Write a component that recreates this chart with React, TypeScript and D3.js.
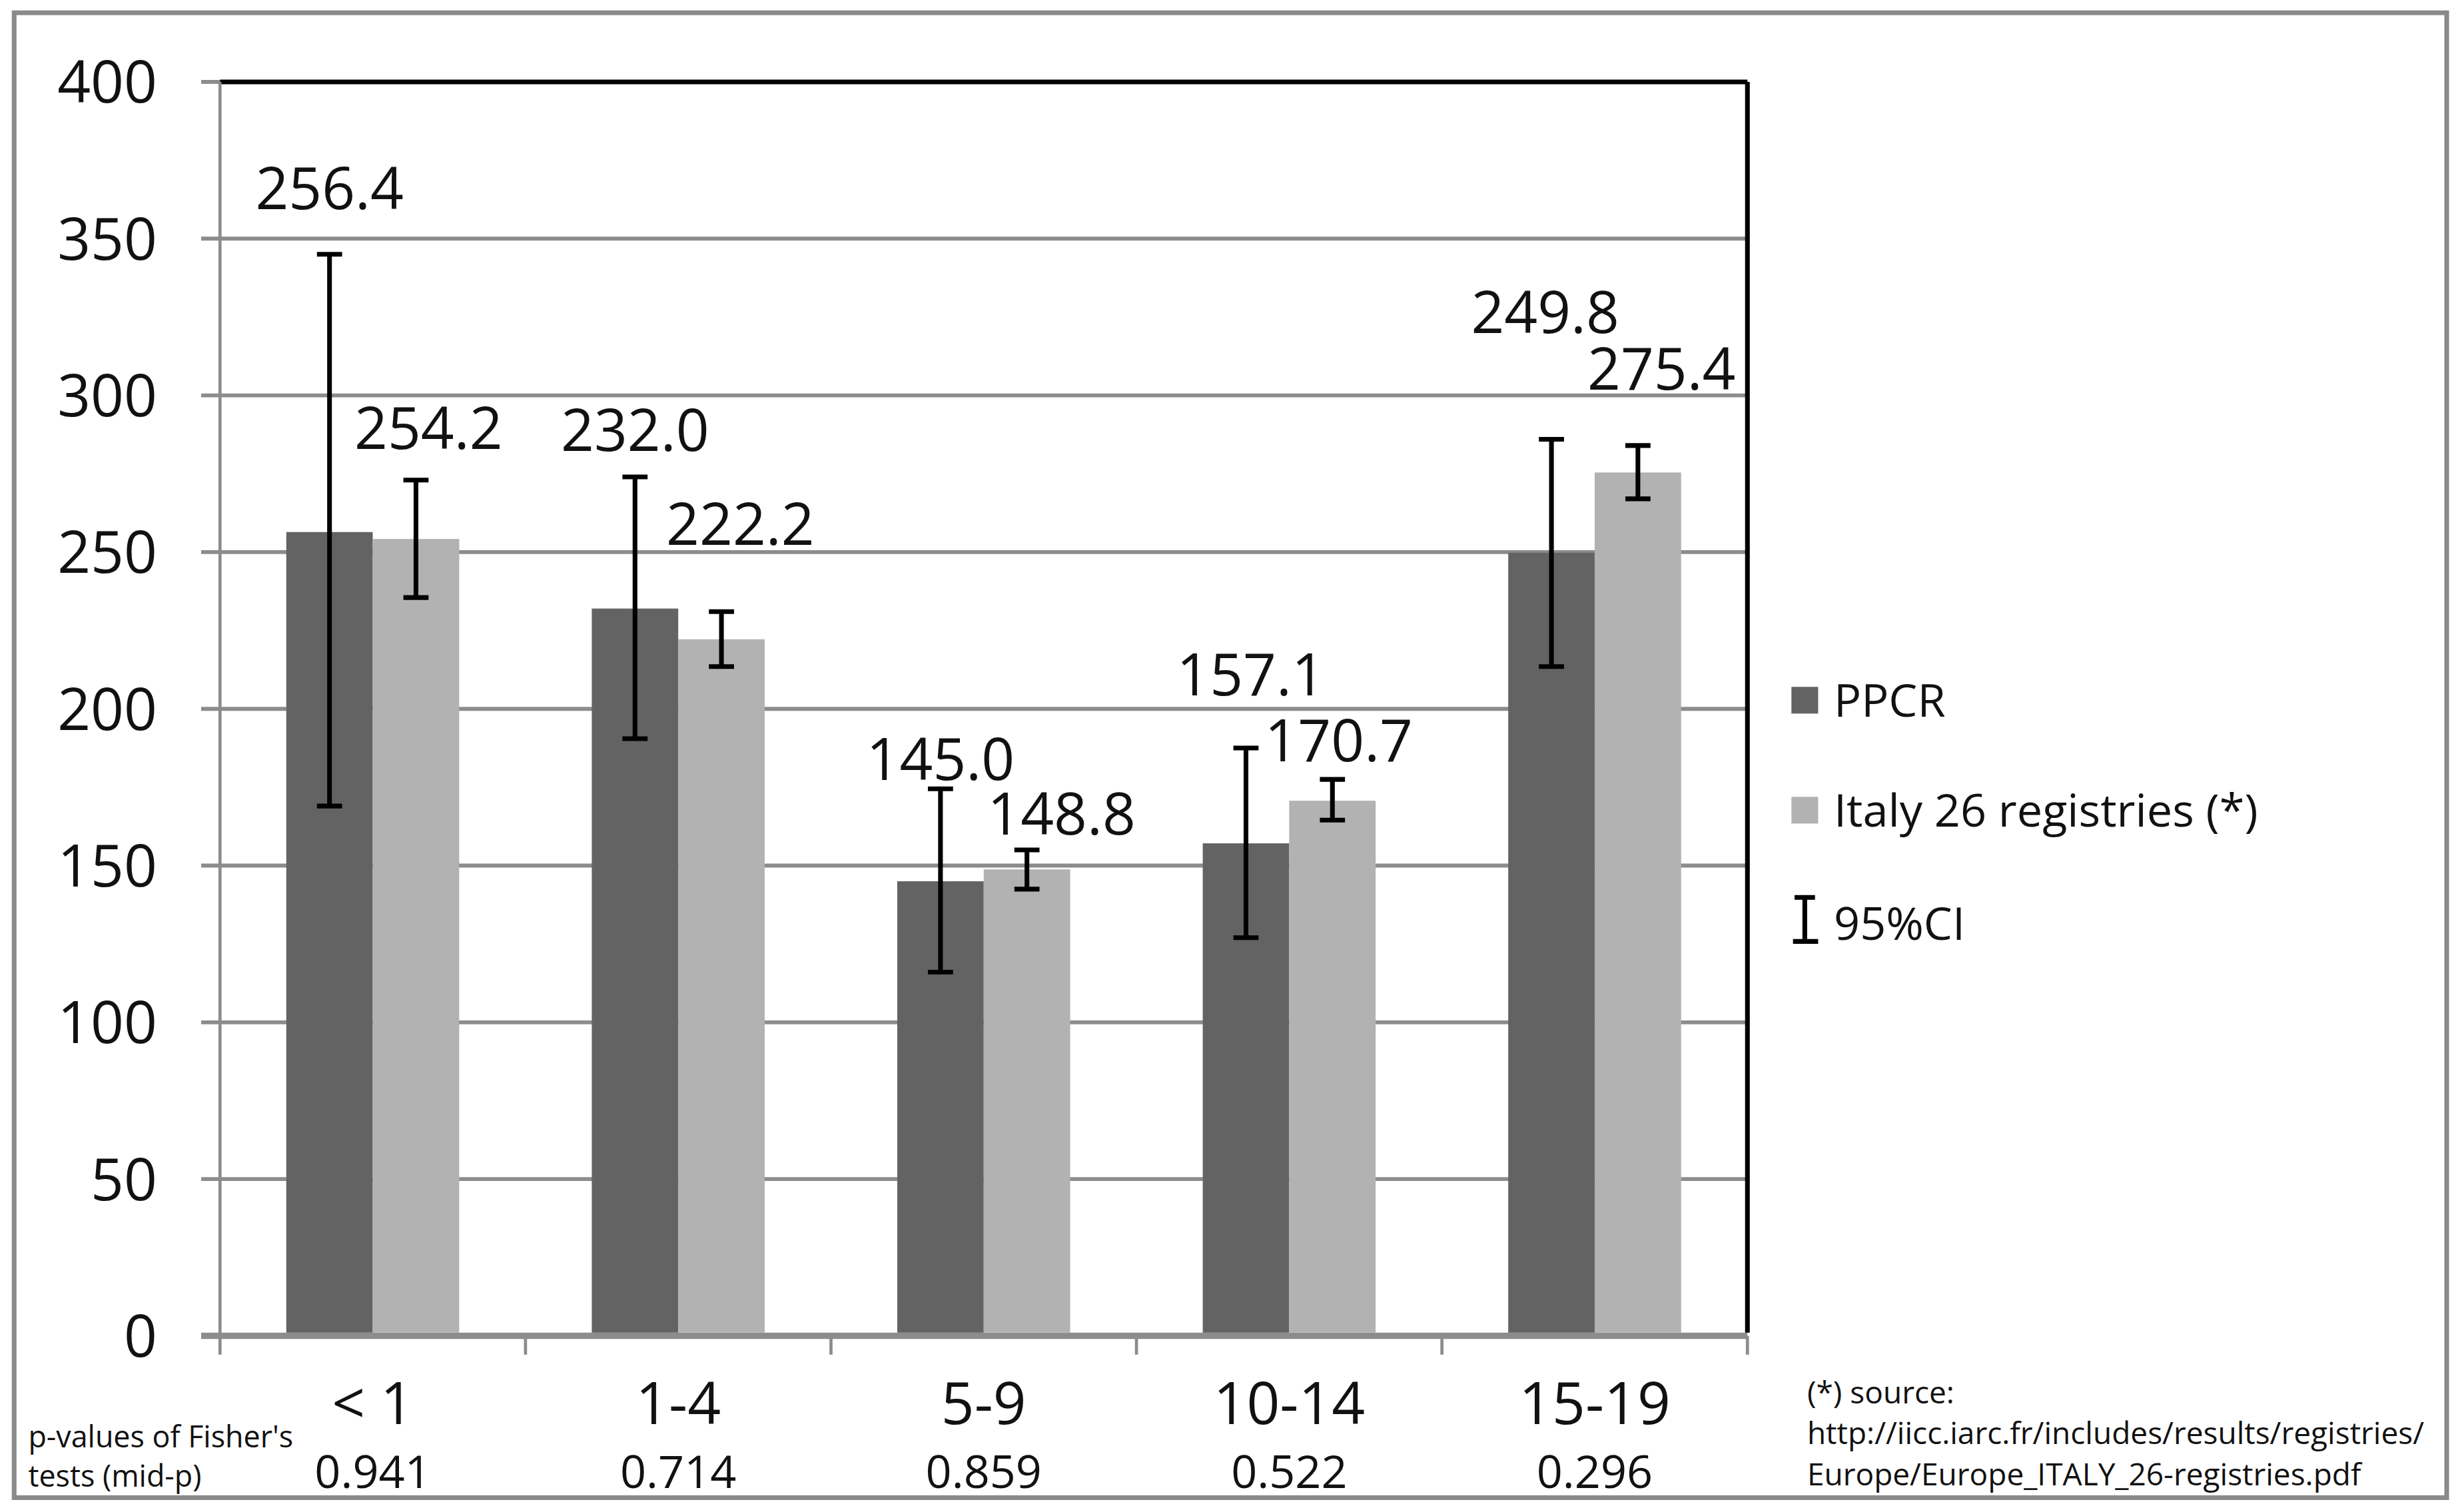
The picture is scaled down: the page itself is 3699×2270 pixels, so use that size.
import React from "react";
import * as d3 from "d3";

const ageGroups = ["< 1", "1-4", "5-9", "10-14", "15-19"];
const pValues = ["0.941", "0.714", "0.859", "0.522", "0.296"];
const seriesNames = ["PPCR", "Italy 26 registries (*)"];

const ppcrRate = [256.4, 232.0, 145.0, 157.1, 249.8];
const ppcrLow = [169, 190.5, 116, 127, 213.5];
const ppcrHigh = [345, 274, 174.5, 187.5, 286];

const italyRate = [254.2, 222.2, 148.8, 170.7, 275.4];
const italyLow = [235.5, 213.5, 142.5, 164.5, 267];
const italyHigh = [273, 231, 155, 177.5, 284];

const yTicks = [0, 50, 100, 150, 200, 250, 300, 350, 400];

// label nudges relative to the top of each error bar (hand placed in the original)
const ppcrLabelShift = [[0, -42], [0, -30], [0, -19], [3, -47], [-4, -81]];
const italyLabelShift = [[8, -33], [12, -56], [22, -23], [4, -25], [15, -49]];

const W = 1568;
const H = 962;
const FONT = "'Open Sans', 'Noto Sans', sans-serif";

const colors = ["#636363", "#b2b2b2"];

export default function App() {
  const left = 140;
  const right = 1112;
  const top = 52;
  const bottom = 850;

  const x = d3
    .scaleBand<string>()
    .domain(ageGroups)
    .range([left, right])
    .paddingInner(0.434)
    .paddingOuter(0.217);

  const xs = d3
    .scaleBand<number>()
    .domain([0, 1])
    .range([0, x.bandwidth()]);

  const y = d3.scaleLinear().domain([0, 400]).range([bottom, top]);

  const series = [
    { rate: ppcrRate, low: ppcrLow, high: ppcrHigh, shift: ppcrLabelShift },
    { rate: italyRate, low: italyLow, high: italyHigh, shift: italyLabelShift },
  ];

  const step = x.step();
  const boundaries = d3.range(ageGroups.length + 1).map((i) => left + i * step);
  const cap = 8;

  return (
    <svg
      width={3699}
      height={2270}
      viewBox={`0 0 ${W} ${H}`}
      style={{ position: "absolute", left: 0, top: 0, background: "#fff" }}
      fontFamily={FONT}
    >
      <rect x={0} y={0} width={W} height={H} fill="#fff" />
      <rect x={9} y={8} width={1548} height={945} fill="none" stroke="#8a8a8a" strokeWidth={3} />

      {/* gridlines + y ticks */}
      {yTicks.map((t) => (
        <g key={t}>
          <line
            x1={128}
            x2={t === 400 ? left : right}
            y1={y(t)}
            y2={y(t)}
            stroke="#8c8c8c"
            strokeWidth={t === 0 ? 4 : 2.5}
          />
          <text x={100} y={y(t)} dy="0.36em" textAnchor="end" fontSize={37} fill="#111">
            {t}
          </text>
        </g>
      ))}
      <line x1={left} x2={right} y1={y(400)} y2={y(400)} stroke="#000" strokeWidth={3} />
      <line x1={right} x2={right} y1={y(400)} y2={y(0) - 2} stroke="#000" strokeWidth={3} />
      <line x1={left} x2={left} y1={y(400)} y2={y(0) + 12} stroke="#8c8c8c" strokeWidth={2} />

      {/* category tick marks */}
      {boundaries.slice(1).map((bx, i) => (
        <line key={i} x1={bx} x2={bx} y1={y(0)} y2={y(0) + 12} stroke="#8c8c8c" strokeWidth={2} />
      ))}

      {/* bars */}
      {series.map((s, si) =>
        ageGroups.map((g, i) => (
          <rect
            key={`${si}-${g}`}
            x={(x(g) ?? 0) + (xs(si) ?? 0)}
            y={y(s.rate[i])}
            width={xs.bandwidth()}
            height={y(0) - y(s.rate[i]) - 2}
            fill={colors[si]}
          />
        ))
      )}

      {/* error bars */}
      {series.map((s, si) =>
        ageGroups.map((g, i) => {
          const cx = (x(g) ?? 0) + (xs(si) ?? 0) + xs.bandwidth() / 2;
          return (
            <g key={`e${si}-${g}`} stroke="#000" strokeWidth={3}>
              <line x1={cx} x2={cx} y1={y(s.high[i])} y2={y(s.low[i])} />
              <line x1={cx - cap} x2={cx + cap} y1={y(s.high[i])} y2={y(s.high[i])} />
              <line x1={cx - cap} x2={cx + cap} y1={y(s.low[i])} y2={y(s.low[i])} />
            </g>
          );
        })
      )}

      {/* value labels */}
      {series.map((s, si) =>
        ageGroups.map((g, i) => {
          const cx = (x(g) ?? 0) + (xs(si) ?? 0) + xs.bandwidth() / 2;
          return (
            <text
              key={`l${si}-${g}`}
              x={cx + s.shift[i][0]}
              y={y(s.high[i]) + s.shift[i][1]}
              dy="0.36em"
              textAnchor="middle"
              fontSize={37}
              fill="#111"
            >
              {s.rate[i].toFixed(1)}
            </text>
          );
        })
      )}

      {/* category labels and p-values */}
      {ageGroups.map((g) => (
        <text
          key={`c${g}`}
          x={(x(g) ?? 0) + x.bandwidth() / 2}
          y={906}
          textAnchor="middle"
          fontSize={37}
          fill="#111"
        >
          {g}
        </text>
      ))}
      {ageGroups.map((g, i) => (
        <text
          key={`p${g}`}
          x={(x(g) ?? 0) + x.bandwidth() / 2}
          y={947}
          textAnchor="middle"
          fontSize={29}
          fill="#111"
        >
          {pValues[i]}
        </text>
      ))}
      <text x={18} y={921} fontSize={19} fill="#111">p-values of Fisher's</text>
      <text x={18} y={946} fontSize={19} fill="#111">tests (mid-p)</text>

      {/* legend */}
      {seriesNames.map((n, i) => (
        <g key={n} transform={`translate(1140, ${437 + i * 70})`}>
          <rect x={0} y={0} width={17} height={17} fill={colors[i]} />
          <text x={27} y={19} fontSize={29} fill="#111">{n}</text>
        </g>
      ))}
      <g transform="translate(1140, 570)" stroke="#000" strokeWidth={3}>
        <line x1={8.5} x2={8.5} y1={0} y2={30} />
        <line x1={2} x2={15} y1={1} y2={1} />
        <line x1={1} x2={17} y1={29} y2={29} />
      </g>
      <text x={1167} y={598} fontSize={29} fill="#111">95%CI</text>

      {/* source note */}
      <text x={1150} y={893} fontSize={19.5} fill="#111">(*) source:</text>
      <text x={1150} y={919} fontSize={19.5} fill="#111">
        http://iicc.iarc.fr/includes/results/registries/
      </text>
      <text x={1150} y={945} fontSize={19.5} fill="#111">
        Europe/Europe_ITALY_26-registries.pdf
      </text>
    </svg>
  );
}
